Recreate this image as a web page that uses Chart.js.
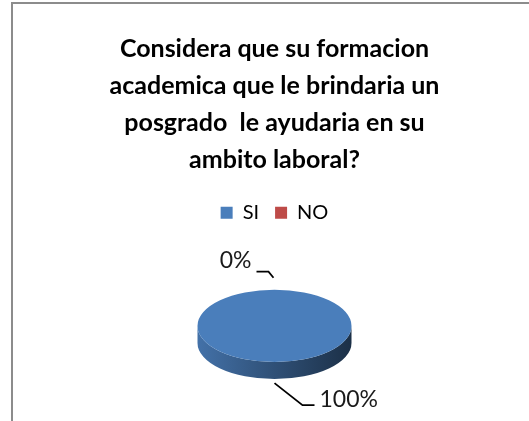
<!DOCTYPE html>
<html>
<head>
<meta charset="utf-8">
<script src="https://cdn.jsdelivr.net/npm/chart.js@4.4.1/dist/chart.umd.min.js"></script>
<style>
  html, body { margin: 0; padding: 0; background: #fff; }
  #wrap { position: relative; width: 529px; height: 421px; overflow: hidden; }
  #frame { position: absolute; left: 11px; top: 2px; width: 600px; height: 500px;
           border-left: 2px solid #8c8c8c; border-top: 2px solid #8c8c8c; }
  canvas { position: absolute; left: 0; top: 0; }
</style>
</head>
<body>
<div id="wrap"><div id="frame"></div><canvas id="pie" width="529" height="421"></canvas></div>
<script>
// Data
const titleLines = ['Considera que su formacion', 'academica que le brindaria un', 'posgrado  le ayudaria en su', 'ambito laboral?'];
const categories = ['SI', 'NO'];
const values = [100, 0];
const colors = ['#4a7ebb', '#be4b48'];

// 3D look
const squash = 0.47;
const depth = 17;

function shade(hex, f) {
    const n = parseInt(hex.slice(1), 16);
    const r = Math.round(((n >> 16) & 255) * f);
    const g = Math.round(((n >> 8) & 255) * f);
    const b = Math.round((n & 255) * f);
    return 'rgb(' + r + ',' + g + ',' + b + ')';
}

// parts of a slice that show on the front wall (angles 0..PI)
function frontSpans(a0, a1) {
    const spans = [];
    for (let k = -1; k <= 1; k++) {
        const lo = Math.max(a0, 2 * Math.PI * k);
        const hi = Math.min(a1, Math.PI + 2 * Math.PI * k);
        if (hi > lo) spans.push([lo, hi]);
    }
    return spans;
}

const pie3d = {
    id: 'pie3d',
    beforeDatasetsDraw(chart) {
        const ctx = chart.ctx;
        const meta = chart.getDatasetMeta(0);
        const {x, y, outerRadius} = meta.data[0];
        const ry = outerRadius * squash;
        ctx.save();
        meta.data.forEach((arc, i) => {
            frontSpans(arc.startAngle, arc.endAngle).forEach(([a0, a1]) => {
                const g = ctx.createLinearGradient(x - outerRadius, 0, x + outerRadius, 0);
                g.addColorStop(0, shade(colors[i], 0.9));
                g.addColorStop(0.45, shade(colors[i], 0.66));
                g.addColorStop(1, shade(colors[i], 0.38));
                ctx.fillStyle = g;
                ctx.beginPath();
                ctx.ellipse(x, y, outerRadius, ry, 0, a0, a1);
                ctx.ellipse(x, y + depth, outerRadius, ry, 0, a1, a0, true);
                ctx.closePath();
                ctx.fill();
            });
        });
        // squash the flat pie into the top face
        ctx.translate(x, y);
        ctx.scale(1, squash);
        ctx.translate(-x, -y);
    },
    afterDatasetsDraw(chart) {
        chart.ctx.restore();
    },
    afterDraw(chart) {
        // percent labels with leader lines
        const ctx = chart.ctx;
        const meta = chart.getDatasetMeta(0);
        const total = values.reduce((a, b) => a + b, 0);
        ctx.save();
        ctx.font = '23px Lato';
        ctx.fillStyle = '#1a1a1a';
        ctx.strokeStyle = '#000';
        ctx.lineWidth = 1.8;
        meta.data.forEach((arc, i) => {
            const {x, y, outerRadius} = arc;
            const mid = (arc.startAngle + arc.endAngle) / 2;
            const s = Math.sin(mid), c = Math.cos(mid);
            const ax = x + outerRadius * c;
            const ay = y + outerRadius * squash * s + (s > 0 ? depth : 0);
            const txt = Math.round(values[i] / total * 100) + '%';
            let p0, p1, p2;
            ctx.beginPath();
            if (s < 0) {
                p0 = [ax - 1, ay - 12];
                p1 = [p0[0] - 5, p0[1] - 6];
                p2 = [p1[0] - 12, p1[1]];
                ctx.textAlign = 'right';
                ctx.textBaseline = 'alphabetic';
                ctx.fillText(txt, p2[0] - 5, p1[1] - 4);
            } else {
                p0 = [ax, ay + 4];
                p1 = [p0[0] + 28, p0[1] + 22];
                p2 = [p1[0] + 12, p1[1]];
                ctx.textAlign = 'left';
                ctx.textBaseline = 'alphabetic';
                ctx.fillText(txt, p2[0] + 5, p1[1] + 2);
            }
            ctx.moveTo(p0[0], p0[1]);
            ctx.lineTo(p1[0], p1[1]);
            ctx.lineTo(p2[0], p2[1]);
            ctx.stroke();
        });
        ctx.restore();
    }
};

const ctx = document.getElementById('pie').getContext('2d');
new Chart(ctx, {
    type: 'pie',
    data: {
        labels: categories,
        datasets: [{
            data: values,
            backgroundColor: colors,
            borderWidth: 0,
            radius: 77
        }]
    },
    options: {
        responsive: false,
        animation: false,
        events: [],
        layout: { padding: { left: 20, right: 0, top: 0, bottom: 2 } },
        plugins: {
            title: {
                display: true,
                text: titleLines,
                color: '#000',
                font: { family: 'Lato', size: 25, weight: 'bold', lineHeight: 1.468 },
                padding: { top: 31, bottom: 9 }
            },
            legend: {
                position: 'top',
                labels: {
                    boxWidth: 12,
                    boxHeight: 12,
                    padding: 16,
                    color: '#000',
                    font: { family: 'Lato', size: 20 }
                }
            },
            tooltip: { enabled: false }
        }
    },
    plugins: [pie3d]
});
</script>
</body>
</html>
